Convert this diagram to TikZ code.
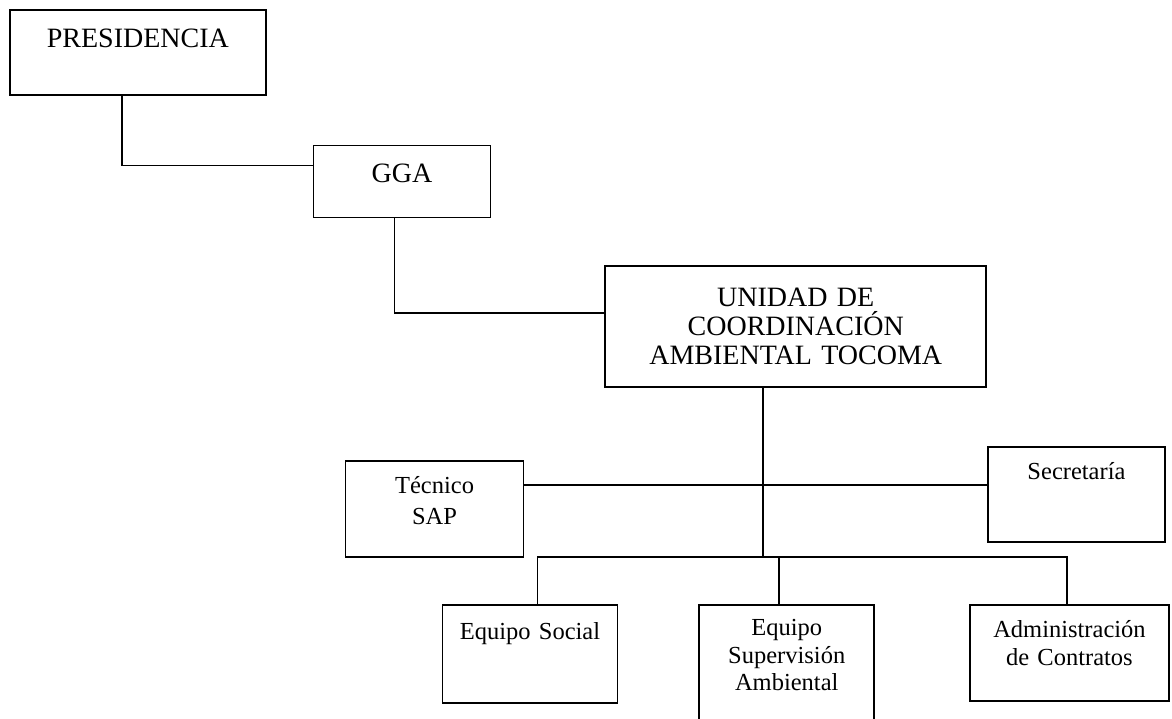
\documentclass[tikz,border=0pt]{standalone}
\usepackage{fontspec}
\setmainfont{Liberation Serif}
\usetikzlibrary{positioning}

\tikzset{
  orgbox/.style={rectangle, draw, inner sep=0pt, align=center},
  bigtext/.style={font=\fontsize{28}{29}\selectfont},
  smalltext/.style={font=\fontsize{24.5}{27.5}\selectfont},
}

\begin{document}
\begin{tikzpicture}[x=1pt, y=1pt, line width=1.7pt]
    \useasboundingbox (0,0) rectangle (1172,-719);

    \node (pres) [orgbox, bigtext, anchor=north west, text width=256pt, text height=38pt, text depth=47pt] at (9,-9) {PRESIDENCIA};
    \node (gga) [orgbox, bigtext, below right=49pt and 46pt of pres, text width=177pt, text height=37pt, text depth=35pt] {GGA};
    \node (unidad) [orgbox, bigtext, below right=47pt and 113pt of gga, text width=381pt, text height=40pt, text depth=81pt] {UNIDAD DE\\COORDINACIÓN\\AMBIENTAL TOCOMA};
    \node (tecnico) [orgbox, smalltext, below left=72pt and 80pt of unidad, text width=178pt, text height=33pt, text depth=63pt] {Técnico\\[3.5pt]SAP};
    \node (secre) [orgbox, smalltext, below right=58pt and 0pt of unidad, text width=177pt, text height=33pt, text depth=62pt] {Secretaría};
    \node (superv) [orgbox, smalltext, below=216pt of unidad, xshift=-9pt, text width=175pt, text height=31pt, text depth=88pt] {Equipo\\Supervisión\\Ambiental};
    \node (social) [orgbox, smalltext, left=80pt of superv.north west, anchor=north east, text width=175pt, text height=35pt, text depth=63pt] {Equipo Social};
    \node (admin) [orgbox, smalltext, right=94pt of superv.north east, anchor=north west, text width=199pt, text height=33pt, text depth=63pt] {Administración\\de Contratos};

    \coordinate (bus) at ([yshift=47pt]superv.north);

    \draw ([xshift=-16pt]pres.south) |- ([yshift=16pt]gga.west);
    \draw ([xshift=-7.5pt]gga.south) |- ([yshift=13.5pt]unidad.west);
    \draw ([xshift=-32.5pt]unidad.south) -- ([xshift=-32.5pt]unidad.south |- bus);
    \draw ([yshift=24pt]tecnico.east) -- ([yshift=9.5pt]secre.west);
    \draw ([xshift=7.5pt]social.north) |- ([xshift=-2.5pt]admin.north |- bus) -- ([xshift=-2.5pt]admin.north);
    \draw ([xshift=-7.5pt]superv.north) -- ([xshift=-7.5pt]superv.north |- bus);
\end{tikzpicture}
\end{document}
